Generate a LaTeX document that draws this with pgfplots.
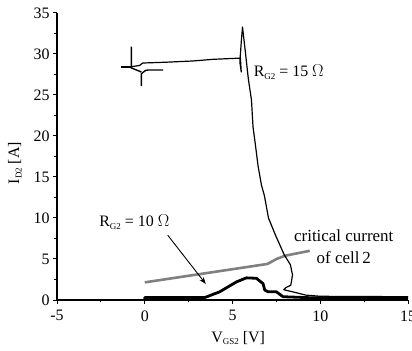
\documentclass[border=0pt]{standalone}
\usepackage{pgfplots}
\pgfplotsset{compat=1.18}
\usepackage{fontspec}
\setmainfont{Liberation Serif}
\usetikzlibrary{arrows.meta}
\newcommand{\sub}[1]{\raisebox{-0.35ex}{\fontsize{9}{9}\selectfont #1}}
\begin{document}
\begin{tikzpicture}[x=1bp,y=1bp]
\begin{axis}[
  scale only axis, width=351bp, height=287bp,
  at={(57bp,51bp)}, anchor=south west,
  xmin=-5, xmax=15, ymin=0, ymax=35,
  axis x line=bottom, axis y line=left,
  axis line style={-, line width=1.4bp},
  tick align=outside,
  major tick length=4bp, minor tick length=2.5bp,
  every tick/.style={black, line width=1bp},
  xtick={-5,0,5,10,15}, ytick={0,5,10,15,20,25,30,35},
  minor xtick={-2.5,2.5,7.5,12.5},
  minor ytick={2.5,7.5,12.5,17.5,22.5,27.5,32.5},
  /pgf/number format/assume math mode=true,
  ticklabel style={font=\fontsize{16}{18}\selectfont},
  xticklabel style={yshift=-3bp},
  xlabel={V\sub{GS2} [V]},
  ylabel={I\sub{D2} [A]},
  label style={font=\fontsize{16}{18}\selectfont},
  xlabel style={at={(axis description cs:0.516,-0.132)}, anchor=center},
  ylabel style={at={(axis description cs:-0.12,0.477)}, anchor=center, rotate=0},
  clip=false,
]
% critical current of cell 2
\addplot[color={rgb,255:red,128;green,128;blue,128}, line width=2.6bp] coordinates {
 (0,2.15) (7.0,4.4) (7.5,5.0) (8.0,5.4) (9.4,6.0)};
% R_G2 = 10 Ohm (thick)
\addplot[black, line width=2.8bp, line join=round] coordinates {
 (0,0.0) (0,0.3) (3.42,0.3) (4.27,1.0) (5.22,2.2) (5.79,2.7) (6.36,2.65) (6.74,2.0) (6.84,1.2) (7.03,1.0) (7.5,1.0) (7.88,0.4) (9.4,0.28) (15,0.25)};
% R_G2 = 15 Ohm (thin)
\addplot[black, line width=1.2bp, line join=round] coordinates {
 (-1.33,28.45) (-0.76,28.45) (-0.3,28.6) (-0.11,28.9) (1.24,29.0) (2.75,29.15) (3.89,29.35) (5.45,29.5) (5.5,27.8) (5.42,29.0) (5.5,31.5) (5.57,33.3) (5.72,30.5) (5.90,27) (6.08,24.4) (6.17,21.1) (6.30,19) (6.46,16.3) (6.65,14) (6.82,12.7) (7.05,10.0) (7.45,7.9) (7.95,5.5) (8.3,4.3) (8.42,3.05) (8.32,1.8) (8.03,1.5) (7.92,1.25) (8.42,1.0) (9.17,0.6) (10,0.45) (15,0.4)};
\addplot[black, line width=1.8bp] coordinates {(-1.33,28.45) (-0.76,28.45)};
\addplot[black, line width=1.4bp] coordinates {(-0.76,30.9) (-0.76,28.3) (-0.19,27.8)};
\addplot[black, line width=1.4bp] coordinates {(-0.19,26.1) (-0.19,27.6) (0.05,28.0) (0.19,28.05) (1.04,28.05)};
% annotations
\node[anchor=west, font=\fontsize{16}{18}\selectfont, inner sep=0pt] at (axis cs:6.2,27.8) {R\sub{G2} = 15 $\Omega$};
\node[anchor=west, font=\fontsize{16}{18}\selectfont, inner sep=0pt] at (axis cs:-2.6,9.5) {R\sub{G2} = 10 $\Omega$};
\draw[-{Stealth[length=7bp,width=5bp]}, line width=0.9bp] (axis cs:1.31,7.9) -- (axis cs:3.48,1.95);
\node[align=center, font=\fontsize{17}{22}\selectfont, inner sep=0pt] at (axis cs:11.34,6.5) {critical current\\of cell\,2};
\end{axis}
\pgfresetboundingbox
\path[use as bounding box] (0,0) rectangle (412bp,351bp);
\end{tikzpicture}
\end{document}
